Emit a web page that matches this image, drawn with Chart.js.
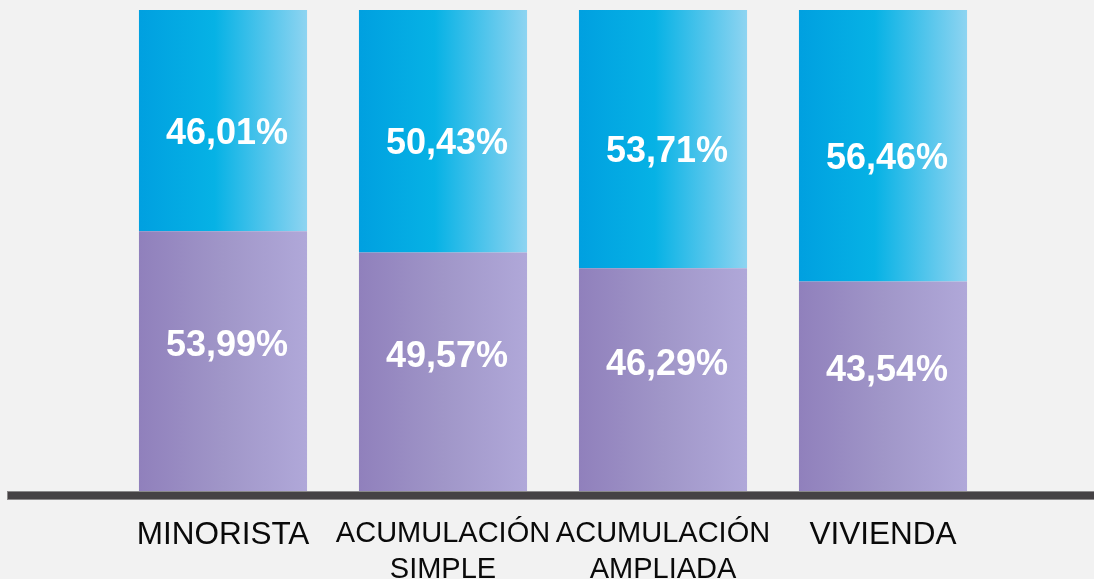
<!DOCTYPE html>
<html>
<head>
<meta charset="utf-8">
<script src="https://cdn.jsdelivr.net/npm/chart.js@4.4.1/dist/chart.umd.min.js"></script>
<style>
  html, body { margin: 0; padding: 0; background: #f2f2f2; }
  #wrap { width: 1094px; height: 579px; position: relative; }
</style>
</head>
<body>
<div id="wrap"><canvas id="c"></canvas></div>
<script>
const categories = ['MINORISTA', ['ACUMULACIÓN', 'SIMPLE'], ['ACUMULACIÓN', 'AMPLIADA'], 'VIVIENDA'];
const purpleValues = [53.99, 49.57, 46.29, 43.54];
const blueValues = [46.01, 50.43, 53.71, 56.46];

const FONT = '"Liberation Sans", Arial, sans-serif';
const BAR_PCT = 0.764;

function barGradient(ctx, stops, fallback) {
  const chart = ctx.chart;
  const area = chart.chartArea;
  if (!area || !chart.scales.x) return fallback;
  const xs = chart.scales.x;
  const cx = xs.getPixelForValue(ctx.dataIndex);
  const w = (area.right - area.left) / categories.length * BAR_PCT;
  const g = chart.ctx.createLinearGradient(cx - w / 2, 0, cx + w / 2, 0);
  stops.forEach(s => g.addColorStop(s[0], s[1]));
  return g;
}

const baselinePlugin = {
  id: 'baseline',
  afterDatasetsDraw(chart) {
    const c = chart.ctx;
    const y = chart.scales.y.getPixelForValue(0);
    c.save();
    c.fillStyle = '#8a8889';
    c.fillRect(7, y, chart.width - 7, 9);
    c.fillStyle = '#454244';
    c.fillRect(8, y + 1, chart.width - 8, 7);
    c.restore();
  }
};

const valueLabels = {
  id: 'valueLabels',
  afterDatasetsDraw(chart) {
    const c = chart.ctx;
    c.save();
    c.fillStyle = '#ffffff';
    c.font = 'bold 36px ' + FONT;
    c.textAlign = 'center';
    c.textBaseline = 'middle';
    const offsets = [-15, 13];
    chart.data.datasets.forEach((ds, di) => {
      const meta = chart.getDatasetMeta(di);
      meta.data.forEach((el, i) => {
        const v = ds.data[i];
        const txt = v.toFixed(2).replace('.', ',') + '%';
        const yc = (el.y + el.base) / 2 + offsets[di];
        c.fillText(txt, el.x + 4, yc);
      });
    });
    c.restore();
  }
};

new Chart(document.getElementById('c'), {
  type: 'bar',
  data: {
    labels: categories,
    datasets: [
      {
        label: 'A',
        data: purpleValues,
        backgroundColor: ctx => barGradient(ctx, [[0, '#9080bc'], [0.5, '#a096c8'], [1, '#b0a8d9']], '#a096c8'),
        borderWidth: 0
      },
      {
        label: 'B',
        data: blueValues,
        backgroundColor: ctx => barGradient(ctx, [[0, '#00a0e0'], [0.45, '#06b2e5'], [1, '#8ed4f1']], '#20b0e6'),
        borderWidth: 0
      }
    ]
  },
  options: {
    responsive: true,
    maintainAspectRatio: false,
    animation: false,
    barPercentage: BAR_PCT,
    categoryPercentage: 1,
    layout: { padding: { left: 113, right: 101, top: 10, bottom: 0 } },
    plugins: { legend: { display: false }, tooltip: { enabled: false } },
    scales: {
      x: {
        stacked: true,
        grid: { display: false, drawTicks: false },
        border: { display: false },
        afterFit(scale) { scale.height = 88; },
        ticks: {
          color: '#0a0a0a',
          padding: 25,
          maxRotation: 0,
          autoSkip: false,
          font: ctx => ({ family: FONT, size: (ctx.index === 0 || ctx.index === 3) ? 31.5 : 29, lineHeight: 1.25 })
        }
      },
      y: {
        stacked: true,
        display: false,
        min: 0,
        max: 100
      }
    }
  },
  plugins: [baselinePlugin, valueLabels]
});
</script>
</body>
</html>
